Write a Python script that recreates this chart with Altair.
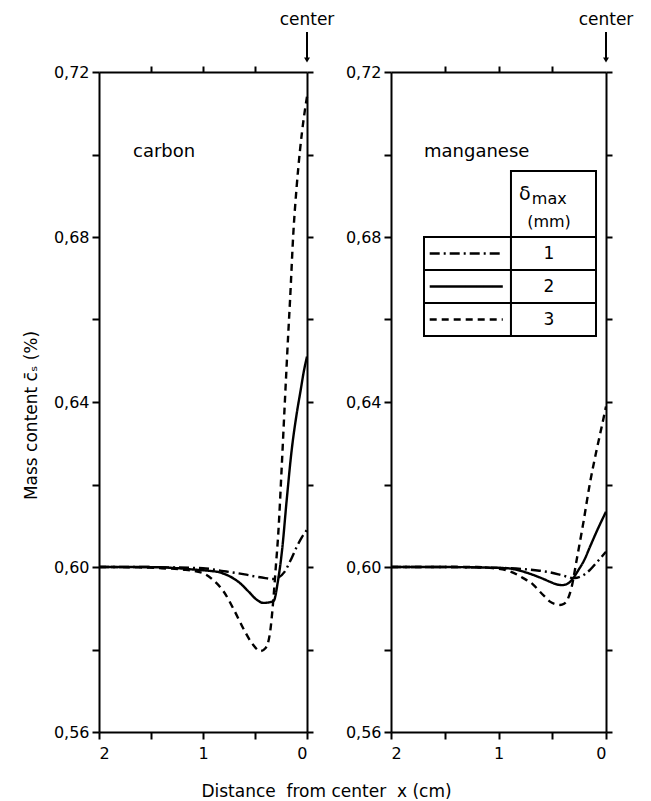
import altair as alt
import pandas as pd

FONT = "DejaVu Sans"

# ---------------- data (x = distance from center in cm, y = mass content %) ----
# carbon
c1_x = [2.0, 1.6, 1.3, 1.0, 0.8, 0.6, 0.5, 0.4, 0.33, 0.27, 0.22, 0.16, 0.10, 0.05, 0.0]
c1_y = [0.6000, 0.6000, 0.5999, 0.5997, 0.5990, 0.5982, 0.5977, 0.5973, 0.5971, 0.5975, 0.5987, 0.6015, 0.6048, 0.6072, 0.6090]
c2_x = [2.0, 1.6, 1.3, 1.1, 0.95, 0.84, 0.74, 0.64, 0.56, 0.48, 0.42, 0.37, 0.32, 0.28, 0.24, 0.195, 0.147, 0.10, 0.06, 0.03, 0.0]
c2_y = [0.6000, 0.6000, 0.5998, 0.5994, 0.5991, 0.5987, 0.5977, 0.5960, 0.5940, 0.5920, 0.5913, 0.5914, 0.5918, 0.5965, 0.6040, 0.6163, 0.6284, 0.6370, 0.6430, 0.6475, 0.6510]
c3_x = [2.0, 1.6, 1.4, 1.2, 1.0, 0.9, 0.8, 0.7, 0.6, 0.52, 0.45, 0.40, 0.356, 0.324, 0.30, 0.276, 0.243, 0.212, 0.18, 0.163, 0.131, 0.10, 0.067, 0.03, 0.0]
c3_y = [0.6000, 0.5999, 0.5997, 0.5994, 0.5985, 0.5968, 0.5940, 0.5895, 0.5845, 0.5812, 0.5796, 0.5803, 0.5840, 0.5920, 0.6000, 0.6082, 0.6243, 0.6405, 0.6567, 0.6647, 0.6811, 0.6920, 0.7011, 0.7090, 0.7140]

# manganese
m1_x = [2.0, 1.5, 1.2, 1.0, 0.77, 0.62, 0.52, 0.44, 0.37, 0.31, 0.27, 0.2, 0.149, 0.08, 0.0]
m1_y = [0.6000, 0.6000, 0.5999, 0.5998, 0.5995, 0.5991, 0.5987, 0.5982, 0.5977, 0.5973, 0.5974, 0.5982, 0.5993, 0.6013, 0.6037]
m2_x = [2.0, 1.5, 1.2, 0.92, 0.8, 0.68, 0.6, 0.52, 0.46, 0.41, 0.37, 0.335, 0.3, 0.258, 0.2, 0.149, 0.08, 0.0]
m2_y = [0.6000, 0.6000, 0.5999, 0.5997, 0.5991, 0.5981, 0.5973, 0.5964, 0.5958, 0.5956, 0.5958, 0.5964, 0.5975, 0.5992, 0.6018, 0.6049, 0.6090, 0.6134]
m3_x = [2.0, 1.5, 1.2, 1.08, 0.9, 0.77, 0.68, 0.614, 0.56, 0.521, 0.47, 0.428, 0.39, 0.36, 0.319, 0.273, 0.211, 0.149, 0.087, 0.04, 0.0]
m3_y = [0.6000, 0.6000, 0.6000, 0.5998, 0.5990, 0.5973, 0.5958, 0.5940, 0.5926, 0.5916, 0.5910, 0.5908, 0.5911, 0.5920, 0.5952, 0.6017, 0.6107, 0.6204, 0.6284, 0.6340, 0.6389]

series_names = ["1", "2", "3"]          # delta_max (mm)
panel_names = ["carbon", "manganese"]
x_ticks = [0, 0.5, 1, 1.5, 2]
y_ticks = [0.56, 0.58, 0.60, 0.62, 0.64, 0.66, 0.68, 0.70, 0.72]

# ---------------- styling / layout constants ----------------
DASHES = [[10, 4, 2, 4], [1, 0], [7, 5]]
LW = 2.4


def long_df(xs, ys):
    rows = []
    for name, xx, yy in zip(series_names, xs, ys):
        for a, b in zip(xx, yy):
            rows.append({"series": name, "x": a, "y": b})
    return pd.DataFrame(rows)


carbon_df = long_df([c1_x, c2_x, c3_x], [c1_y, c2_y, c3_y])
mang_df = long_df([m1_x, m2_x, m3_x], [m1_y, m2_y, m3_y])

XS = alt.Scale(domain=[0, 2], reverse=True, nice=False, zero=False)
YS = alt.Scale(domain=[0.56, 0.72], nice=False, zero=False)

common_axis = dict(
    tickWidth=2, domainWidth=2, tickColor="black", domainColor="black",
    labelColor="black", labelFont=FONT, labelFontSize=16, grid=False,
    titleFont=FONT, titleFontSize=17, titleFontWeight="normal", titleColor="black",
)


def bottom_axis(title):
    kw = dict(common_axis)
    kw.update(orient="bottom", values=x_ticks, tickSize=7, labelPadding=6,
              labelExpr="datum.value % 1 == 0 ? format(datum.value, 'd') : ''")
    if title:
        kw.update(title=title, titleX=227, titleY=64, titleBaseline="alphabetic",
                  titleAlign="center")
    else:
        kw.update(title="")
    return alt.Axis(**kw)


def left_axis(title):
    kw = dict(common_axis)
    kw.update(orient="left", values=y_ticks, tickSize=7, labelPadding=3,
              labelExpr="round(datum.value * 100) % 4 == 0 ? replace(format(datum.value, '.2f'), '.', ',') : ''")
    if title:
        kw.update(title=title, titleAngle=270, titleX=-63, titleY=343,
                  titleBaseline="alphabetic", titleAlign="center")
    else:
        kw.update(title="")
    return alt.Axis(**kw)


top_axis = alt.Axis(orient="top", values=[0.5, 1, 1.5], labels=False, tickSize=6,
                    title="", **{k: v for k, v in common_axis.items() if not k.startswith("label")})
right_axis = alt.Axis(orient="right", values=y_ticks, labels=False, tickSize=6,
                      title="", **{k: v for k, v in common_axis.items() if not k.startswith("label")})

DASH_SCALE = alt.Scale(domain=series_names, range=DASHES)


def panel(df, width, name, name_x, xtitle, ytitle, with_table):
    lines = alt.Chart(df).mark_line(color="black", strokeWidth=LW, interpolate="monotone").encode(
        x=alt.X("x:Q", scale=XS, axis=bottom_axis(xtitle)),
        y=alt.Y("y:Q", scale=YS, axis=left_axis(ytitle)),
        strokeDash=alt.StrokeDash("series:N", scale=DASH_SCALE, legend=None),
        order=alt.Order("x:Q", sort="descending"),
    )
    frame = alt.Chart(df).mark_point(opacity=0).encode(
        x=alt.X("x:Q", scale=XS, axis=top_axis),
        y=alt.Y("y:Q", scale=YS, axis=right_axis),
    )
    label = alt.Chart(pd.DataFrame({"x": [name_x], "y": [0.7006], "t": [name]})).mark_text(
        font=FONT, fontSize=18, align="left", baseline="middle", color="black"
    ).encode(x=alt.X("x:Q", scale=XS, axis=None), y=alt.Y("y:Q", scale=YS, axis=None), text="t:N")

    cdf = pd.DataFrame({"x": [0.0], "t": ["center"]})
    center_txt = alt.Chart(cdf).mark_text(font=FONT, fontSize=17, align="center",
                                          baseline="alphabetic", color="black").encode(
        x=alt.X("x:Q", scale=XS, axis=None), y=alt.value(-47), text="t:N")
    arrow = alt.Chart(cdf).mark_rule(color="black", strokeWidth=2).encode(
        x=alt.X("x:Q", scale=XS, axis=None), y=alt.value(-40), y2=alt.value(-12))
    head = alt.Chart(cdf).mark_point(shape="triangle-down", filled=True, color="black",
                                     size=35, opacity=1).encode(
        x=alt.X("x:Q", scale=XS, axis=None), y=alt.value(-12))

    layers = [lines, frame, label, center_txt, arrow, head]

    if with_table:
        # table geometry in data coordinates
        x_left, x_mid, x_right = 1.693, 0.884, 0.093
        y_edges = [0.680, 0.672, 0.664, 0.656]
        y_head_top = 0.696
        cells = [{"x": x_mid, "x2": x_right, "y": y_head_top, "y2": y_edges[0]}]
        for i in range(3):
            cells.append({"x": x_left, "x2": x_mid, "y": y_edges[i], "y2": y_edges[i + 1]})
            cells.append({"x": x_mid, "x2": x_right, "y": y_edges[i], "y2": y_edges[i + 1]})
        cells_df = pd.DataFrame(cells)
        rects = alt.Chart(cells_df).mark_rect(fill="white", stroke="black", strokeWidth=2).encode(
            x=alt.X("x:Q", scale=XS, axis=None), x2="x2:Q",
            y=alt.Y("y:Q", scale=YS, axis=None), y2="y2:Q")
        sample_df = pd.DataFrame({
            "series": series_names,
            "x": [1.64] * 3, "x2": [0.96] * 3,
            "y": [(y_edges[i] + y_edges[i + 1]) / 2 for i in range(3)],
            "nx": [0.53] * 3,
        })
        samples = alt.Chart(sample_df).mark_rule(color="black", strokeWidth=LW).encode(
            x=alt.X("x:Q", scale=XS, axis=None), x2="x2:Q",
            y=alt.Y("y:Q", scale=YS, axis=None),
            strokeDash=alt.StrokeDash("series:N", scale=DASH_SCALE, legend=None))
        nums = alt.Chart(sample_df).mark_text(font=FONT, fontSize=17, align="center",
                                              baseline="middle", color="black").encode(
            x=alt.X("nx:Q", scale=XS, axis=None), y=alt.Y("y:Q", scale=YS, axis=None),
            text="series:N")
        hdr = pd.DataFrame({"x": [0.81, 0.69, 0.53], "y": [0.6905, 0.6893, 0.6837],
                            "t": ["δ", "max", "(mm)"], "fs": [19, 16, 16]})
        hdr_txt = alt.Chart(hdr).mark_text(font=FONT, align="left", baseline="middle",
                                           color="black").encode(
            x=alt.X("x:Q", scale=XS, axis=None), y=alt.Y("y:Q", scale=YS, axis=None),
            text="t:N", size=alt.Size("fs:Q", scale=None, legend=None))
        hdr_mm = alt.Chart(hdr.iloc[[2]]).mark_text(font=FONT, fontSize=16, align="center",
                                                   baseline="middle", color="black").encode(
            x=alt.X("x:Q", scale=XS, axis=None), y=alt.Y("y:Q", scale=YS, axis=None), text="t:N")
        hdr_txt = hdr_txt.transform_filter("datum.t != '(mm)'")
        layers += [rects, samples, nums, hdr_txt, hdr_mm]

    return alt.layer(*layers).resolve_scale(x="independent", y="independent").properties(
        width=width, height=660)


left = panel(carbon_df, 208, panel_names[0], 1.673,
             "Distance\u00a0 from center\u00a0  x (cm)", "Mass content c\u0304\u209b (%)", False)
right = panel(mang_df, 215, panel_names[1], 1.693, None, None, True)

chart = alt.hconcat(left, right, spacing=84, bounds="flush").properties(
    padding={"left": 21, "top": 10, "right": 5, "bottom": 5},
    background="white",
).configure_view(stroke="transparent")

chart.save("out.html", embed_options={"renderer": "svg", "actions": False})
